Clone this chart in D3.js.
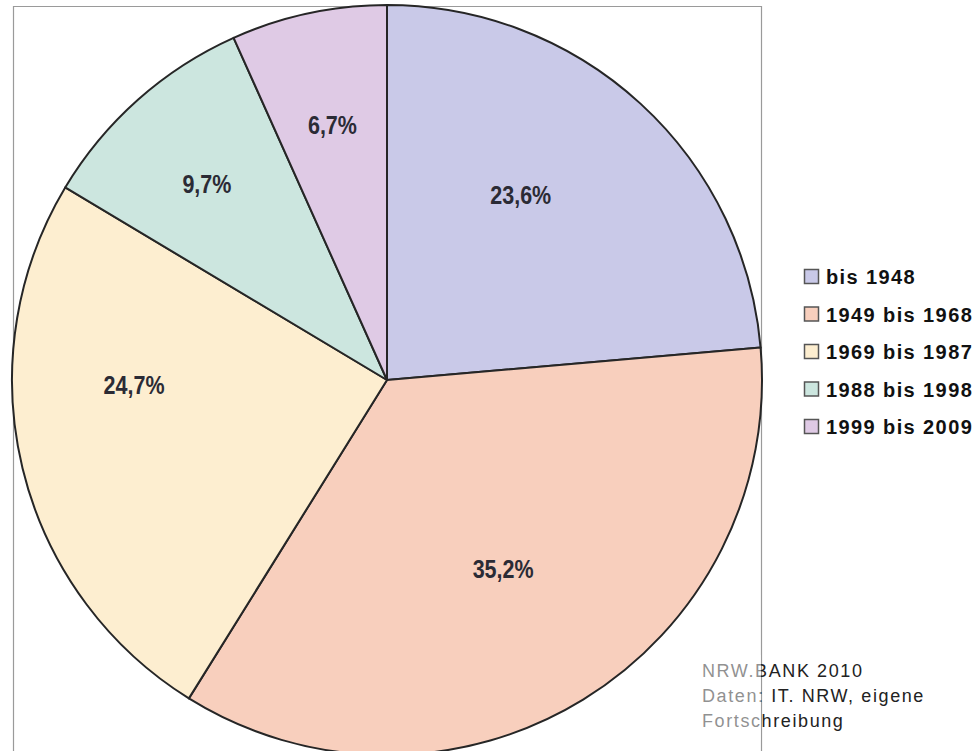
<!DOCTYPE html>
<html><head><meta charset="utf-8">
<script src="https://cdn.jsdelivr.net/npm/d3@7"></script>
<style>html,body{margin:0;padding:0;background:#fff;overflow:hidden}</style>
</head><body>
<svg id="chart" width="979" height="751"></svg>
<script>
const categories = ["bis 1948", "1949 bis 1968", "1969 bis 1987", "1988 bis 1998", "1999 bis 2009"];
const values = [23.6, 35.2, 24.7, 9.7, 6.7];
const valueLabels = ["23,6%", "35,2%", "24,7%", "9,7%", "6,7%"];
const colors = ["#c9c9e8", "#f8cfbd", "#fdeed0", "#cce6df", "#dfcae5"];
const sourceLines = ["NRW.BANK 2010", "Daten: IT. NRW, eigene", "Fortschreibung"];

const svg = d3.select("#chart");
const cx = 387, cy = 380, R = 375;

// frame
svg.append("path").attr("d", "M13.5,751 V6.5 H761.5 V751")
  .attr("fill", "none").attr("stroke", "#9a9a9a").attr("stroke-width", 1.2);

const pie = d3.pie().sort(null).value(d => d)(values);
const arc = d3.arc().innerRadius(0).outerRadius(R);
const g = svg.append("g").attr("transform", `translate(${cx},${cy})`);
g.selectAll("path.slice").data(pie).join("path")
  .attr("class", "slice")
  .attr("d", arc)
  .attr("fill", (d, i) => colors[i])
  .attr("stroke", "#262626").attr("stroke-width", 2).attr("stroke-linejoin", "round");

// label placement (best-fit style adjustments of angle / radius)
const angleShift = [-6.6, 0, 12.5, -1, 0];
const labelR = [228, 222, 253, 266, 261];
g.selectAll("text.val").data(pie).join("text")
  .attr("class", "val")
  .attr("transform", (d, i) => {
    const a = (d.startAngle + d.endAngle) / 2 + angleShift[i] * Math.PI / 180;
    return `translate(${Math.sin(a) * labelR[i]},${-Math.cos(a) * labelR[i]}) scale(0.86,1)`;
  })
  .attr("text-anchor", "middle").attr("dy", "0.36em")
  .attr("font-family", "Liberation Sans, Arial, sans-serif")
  .attr("font-weight", "bold").attr("font-size", 25)
  .attr("fill", "#2b2b35")
  .text((d, i) => valueLabels[i]);

// legend
const ly = d3.scalePoint().domain(categories).range([277, 427]);
const leg = svg.append("g");
categories.forEach((c, i) => {
  const y = ly(c);
  leg.append("rect").attr("x", 804.5).attr("y", y - 7.5).attr("width", 14).attr("height", 14)
    .attr("fill", colors[i]).attr("stroke", "#555").attr("stroke-width", 1.5);
  leg.append("text").attr("x", 826).attr("y", y).attr("dy", "0.36em")
    .attr("font-family", "Liberation Sans, Arial, sans-serif").attr("font-weight", "bold")
    .attr("font-size", 20).attr("letter-spacing", 1.4).attr("fill", "#111").text(c);
});

// source
const src = svg.append("g");
sourceLines.forEach((t, i) => {
  src.append("text").attr("x", 702).attr("y", 677 + i * 25)
    .attr("font-family", "Liberation Sans, Arial, sans-serif").attr("font-size", 18)
    .attr("letter-spacing", 1.6).attr("fill", "#222").text(t);
});
src.append("rect").attr("x", 695).attr("y", 655).attr("width", 66).attr("height", 85)
  .attr("fill", "#fff").attr("opacity", 0.5);
</script>
</body></html>
